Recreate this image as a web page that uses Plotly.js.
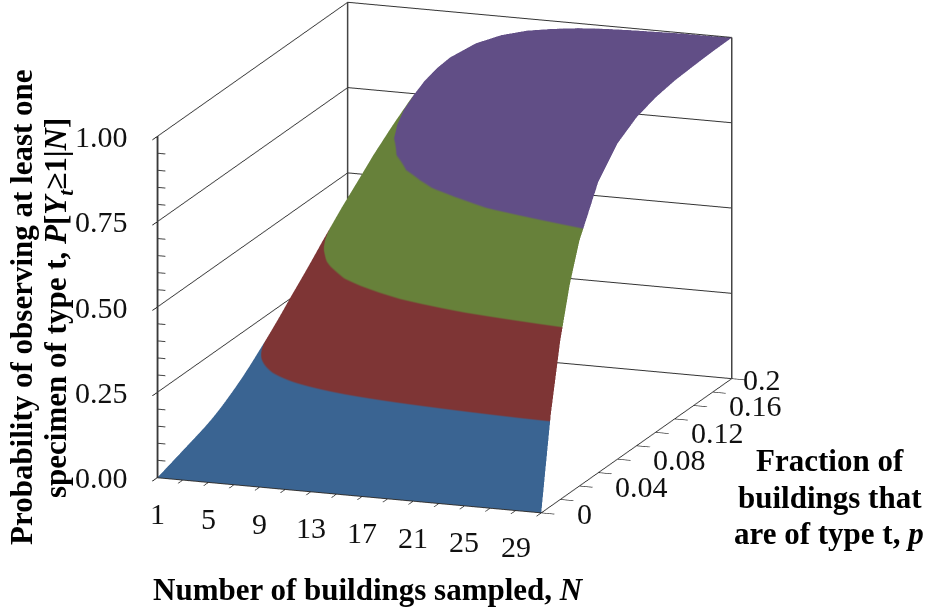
<!DOCTYPE html>
<html><head><meta charset="utf-8">
<script src="https://cdn.plot.ly/plotly-3.0.1.min.js"></script>
<style>html,body{margin:0;padding:0;background:#fff}#c{width:926px;height:613px}</style></head>
<body><div id="c"></div>
<script>
const buildings=[1,2,3,4,5,6,7,8,9,11,13,15,17,19,21,23,25,27,29,31];
const fractions=[0,.01,.02,.03,.04,.06,.08,.10,.12,.14,.16,.18,.20];
const p000=[0,0,0,0,0,0,0,0,0,0,0,0,0,0,0,0,0,0,0,0];
const p001=[.01,.02,.03,.039,.049,.059,.068,.077,.086,.105,.122,.140,.157,.174,.190,.206,.222,.238,.253,.268];
const p002=[.02,.04,.059,.078,.096,.114,.132,.149,.166,.199,.231,.261,.291,.319,.346,.372,.397,.420,.444,.466];
const p003=[.03,.059,.087,.115,.141,.167,.192,.216,.240,.285,.327,.367,.404,.439,.473,.504,.533,.561,.587,.611];
const p004=[.04,.078,.115,.151,.185,.217,.249,.279,.307,.362,.412,.458,.500,.540,.576,.609,.640,.668,.694,.718];
const p006=[.06,.116,.169,.219,.266,.310,.352,.390,.427,.494,.553,.605,.651,.692,.727,.759,.787,.812,.834,.853];
const p008=[.08,.154,.221,.284,.341,.394,.442,.487,.528,.600,.662,.714,.758,.795,.826,.853,.876,.895,.911,.925];
const p010=[.10,.19,.271,.344,.410,.469,.522,.570,.613,.686,.746,.794,.833,.865,.891,.911,.928,.942,.953,.962];
const p012=[.12,.226,.319,.400,.472,.536,.591,.640,.683,.755,.810,.853,.886,.912,.932,.947,.959,.968,.976,.981];
const p014=[.14,.26,.364,.453,.530,.595,.652,.701,.743,.810,.859,.896,.923,.943,.958,.969,.977,.983,.988,.991];
const p016=[.16,.294,.407,.502,.582,.649,.705,.752,.792,.853,.896,.927,.948,.964,.974,.982,.987,.991,.994,.995];
const p018=[.18,.328,.449,.548,.629,.696,.751,.796,.832,.887,.924,.949,.966,.977,.985,.990,.993,.995,.997,.998];
const p020=[.20,.36,.488,.590,.672,.738,.790,.832,.866,.914,.945,.965,.977,.986,.991,.994,.996,.998,.998,.999];
const probability=[p000,p001,p002,p003,p004,p006,p008,p010,p012,p014,p016,p018,p020];
const xTicks=[1,3,5,7,9,11,13,15,17,19,21,23,25,27,29,31];
const xLabels=["1","5","9","13","17","21","25","29"];
const xLabelAt=[1,5,9,13,17,21,25,29];
const yTicks=[0,.02,.04,.06,.08,.1,.12,.14,.16,.18,.2];
const yLabels=["0","0.04","0.08","0.12","0.16","0.2"];
const yLabelAt=[0,.04,.08,.12,.16,.2];
const zTicks=[0,.25,.5,.75,1];
const zLabels=["0.00","0.25","0.50","0.75","1.00"];
const zMinor=[.05,.1,.15,.2,.3,.35,.4,.45,.55,.6,.65,.7,.8,.85,.9,.95];
const blue="#416fa2",red="#8c3b3b",green="#728f40",purple="#6c5795";
const serif="Liberation Serif, Times New Roman, serif";
const tickFont={family:serif,size:30,color:"#111"};
const title={family:serif,size:31,color:"#000"};
const axisBase={showbackground:false,showspikes:false,showline:true,linecolor:"#333",linewidth:2,ticks:"outside",tickcolor:"#222",tickwidth:2,ticklen:14,showticklabels:false,title:{text:""},zeroline:false};
const helper=(x,y,z,w)=>({type:"scatter3d",mode:"lines",x,y,z,line:{color:"#444",width:w||3},showlegend:false,hoverinfo:"skip"});
const data=[{type:"surface",x:buildings,y:fractions,z:probability,cmin:0,cmax:1,showscale:false,hoverinfo:"skip",
 colorscale:[[0,blue],[.25,blue],[.25,red],[.5,red],[.5,green],[.75,green],[.75,purple],[1,purple]],
 lighting:{ambient:.9,diffuse:.25,specular:.02,roughness:.9,fresnel:0},lightposition:{x:0,y:0,z:1000}},
 helper([1,1],[.2,.2],[0,1]),helper([31,31],[.2,.2],[0,1]),helper([1.01,1.01],[.0005,.0005],[0,1])];
zMinor.forEach(z=>data.push(helper([1.01,1.6],[.0005,.0005],[z,z],2)));
const note=(x,y,text,angle)=>({xref:"paper",yref:"paper",x:x/926,y:1-y/613,xanchor:"center",yanchor:"middle",text:"<b>"+text+"</b>",showarrow:false,textangle:angle||0,font:title});
const label=(x,y,z,text,xanchor,xshift,yshift)=>({x,y,z,text,xanchor,yanchor:"middle",xshift,yshift,showarrow:false,font:tickFont});
const sceneLabels=[
 ...xLabelAt.map((v,i)=>label(v,0,0,xLabels[i],"center",0,-36)),
 ...zTicks.map((v,i)=>label(1,0,v,zLabels[i],"right",-27,0))
];
// p-axis labels sit beside the floor edge that runs from (541,512) to (731,378) on the page
const pLabels=yLabelAt.map((v,i)=>({xref:"paper",yref:"paper",xanchor:"left",yanchor:"middle",showarrow:false,font:tickFont,text:yLabels[i],
 x:(541+190*v/.2+(v===.2?10:34))/926,y:1-(513-134*v/.2)/613}));
const cx=.0702,cy=-.0165,cz=-.1547;
const layout={width:926,height:613,margin:{l:0,r:0,t:0,b:0},paper_bgcolor:"#fff",showlegend:false,
 scene:{domain:{x:[0,1],y:[0,1]},aspectmode:"manual",aspectratio:{x:1.332,y:1.833,z:1.151},
  camera:{projection:{type:"orthographic"},eye:{x:cx+.328*2,y:cy-.91*2,z:cz+.254*2},center:{x:cx,y:cy,z:cz},up:{x:0,y:0,z:1}},
  annotations:sceneLabels,
  xaxis:{...axisBase,range:[1,31],tickvals:xTicks,showgrid:false},
  yaxis:{...axisBase,range:[0,.2],tickvals:yTicks,showgrid:false},
  zaxis:{...axisBase,range:[0,1],tickvals:zTicks,showgrid:true,gridcolor:"#333",gridwidth:2}},
 annotations:[
  ...pLabels,
  note(368,589,"Number of buildings sampled, <i>N</i>"),
  note(830,460,"Fraction of"),note(830,497,"buildings that"),note(829,533,"are of type t, <i>p</i>"),
  note(22,307,"Probability of observing at least one",-90),
  note(58,308,"specimen of type t, <i>P</i>[<i>Y<sub>t</sub></i>≥1|<i>N</i>]",-90)
 ]};
Plotly.newPlot("c",data,layout,{displayModeBar:false});
</script></body></html>
